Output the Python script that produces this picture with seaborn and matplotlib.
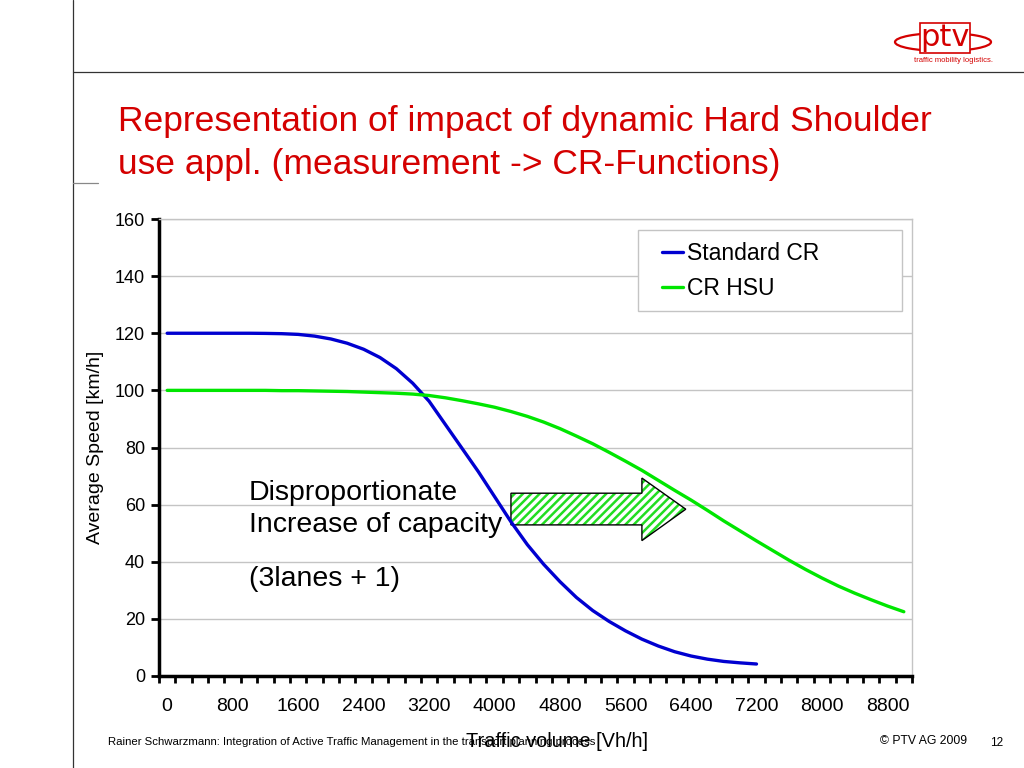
import numpy as np
import pandas as pd
import matplotlib
matplotlib.use('Agg')
import matplotlib.pyplot as plt
from matplotlib.patches import Polygon, Ellipse, Rectangle
from matplotlib.lines import Line2D
import seaborn as sns

# values (speed in km/h per 200 Vh/h step)
volume_standard = list(range(0, 7201, 200))
speed_standard = [120, 120, 120, 120, 120, 120, 119.95, 119.85, 119.6, 119.0,
                  118.0, 116.5, 114.4, 111.5, 107.6, 102.5, 96.2, 88.0, 79.8,
                  71.6, 62.8, 54.0, 46.0, 39.1, 33.0, 27.5, 22.9, 19.1, 15.8,
                  12.9, 10.5, 8.5, 7.0, 5.9, 5.1, 4.6, 4.2]

volume_hsu = list(range(0, 9001, 200))
speed_hsu = [100, 100, 100, 100, 100, 100, 100, 99.9, 99.9, 99.8,
             99.7, 99.6, 99.4, 99.2, 99.0, 98.7, 98.2, 97.4, 96.4, 95.3,
             94.1, 92.6, 90.9, 88.9, 86.6, 84.0, 81.3, 78.3, 75.2, 72.0,
             68.5, 65.0, 61.6, 58.0, 54.3, 50.8, 47.3, 43.9, 40.5, 37.3,
             34.3, 31.5, 29.0, 26.7, 24.5, 22.5]

series_names = ['Standard CR', 'CR HSU']
series_colors = {'Standard CR': '#0000D0', 'CR HSU': '#00E600'}

x_labels = list(range(0, 8801, 800))
y_ticks = list(range(0, 161, 20))

df = pd.concat([
    pd.DataFrame({'volume': volume_standard, 'speed': speed_standard, 'curve': 'Standard CR'}),
    pd.DataFrame({'volume': volume_hsu, 'speed': speed_hsu, 'curve': 'CR HSU'}),
])

sns.set_theme(style='white')
plt.rcParams['font.family'] = ['Liberation Sans', 'DejaVu Sans']
plt.rcParams['text.color'] = 'black'
plt.rcParams['axes.labelcolor'] = 'black'
plt.rcParams['xtick.color'] = 'black'
plt.rcParams['ytick.color'] = 'black'
plt.rcParams['hatch.linewidth'] = 1.8

fig = plt.figure(figsize=(10.24, 7.68), dpi=100)
ax = fig.add_axes([159 / 1024, 1 - 676 / 768, 753 / 1024, 457 / 768])

sns.lineplot(data=df, x='volume', y='speed', hue='curve', hue_order=series_names,
             palette=series_colors, linewidth=2.4, ax=ax, zorder=3)

ax.set_xlim(-100, 9100)
ax.set_ylim(0, 160)

# y axis
ax.set_yticks(y_ticks)
ax.tick_params(axis='y', which='major', direction='out', length=6, width=2,
               color='black', labelsize=13, pad=4, left=True)
ax.yaxis.grid(True, color='#c4c4c4', linewidth=1)
ax.xaxis.grid(False)

# x axis: category-like ticks between labels
ax.set_xticks(x_labels)
ax.set_xticks(np.arange(-100, 9101, 200), minor=True)
ax.tick_params(axis='x', which='major', length=0, labelsize=14, pad=16)
ax.tick_params(axis='x', which='minor', direction='out', length=5, width=2,
               color='black', bottom=True)

for side in ['left', 'bottom']:
    ax.spines[side].set_color('black')
    ax.spines[side].set_linewidth(2.5)
for side in ['top', 'right']:
    ax.spines[side].set_color('#c4c4c4')
    ax.spines[side].set_linewidth(1)

ax.set_xlabel('Traffic volume [Vh/h]', fontsize=14.4)
ax.xaxis.set_label_coords(0.528, -0.123)
ax.set_ylabel('Average Speed [km/h]', fontsize=14, labelpad=8)

# legend: entries without frame, frame drawn as its own box
leg = ax.legend(loc='upper left', bbox_to_anchor=(0.668, 0.949), borderaxespad=0,
                fontsize=16.5, handlelength=0.9, handletextpad=0.2,
                labelspacing=0.5, borderpad=0, frameon=False)
for line in leg.get_lines():
    line.set_linewidth(2.4)
ax.add_patch(Rectangle((0.636, 0.799), 0.351, 0.177, transform=ax.transAxes,
                       facecolor='white', edgecolor='#c4c4c4', linewidth=1, zorder=4))
leg.set_zorder(5)

# hatched arrow
arrow_pts = [(4200, 52.9), (5800, 52.9), (5800, 47.4), (6336, 58.4),
             (5800, 69.3), (5800, 64.0), (4200, 64.0)]
ax.add_patch(Polygon(arrow_pts, closed=True, facecolor='white', edgecolor='#22dd22',
                     hatch='////', linewidth=0, zorder=2))
ax.add_patch(Polygon(arrow_pts, closed=True, fill=False, edgecolor='black',
                     linewidth=1, zorder=2.1))

ax.text(1000, 61.6, 'Disproportionate', fontsize=20.5, va='baseline', ha='left')
ax.text(1000, 50.4, 'Increase of capacity', fontsize=20.5, va='baseline', ha='left')
ax.text(1000, 31.5, '(3lanes + 1)', fontsize=20.5, va='baseline', ha='left')

# slide decoration
fig.text(118 / 1024, 1 - 131 / 768, 'Representation of impact of dynamic Hard Shoulder',
         fontsize=25.5, color='#D40000', va='baseline', ha='left')
fig.text(118 / 1024, 1 - 174 / 768, 'use appl. (measurement -> CR-Functions)',
         fontsize=25.5, color='#D40000', va='baseline', ha='left')

fig.add_artist(Line2D([73 / 1024, 73 / 1024], [0, 1], transform=fig.transFigure,
                      color='#333333', linewidth=0.9))
fig.add_artist(Line2D([73 / 1024, 1], [1 - 72 / 768, 1 - 72 / 768], transform=fig.transFigure,
                      color='#333333', linewidth=0.9))
fig.add_artist(Line2D([73 / 1024, 98 / 1024], [1 - 183 / 768, 1 - 183 / 768],
                      transform=fig.transFigure, color='#888888', linewidth=0.9))

# logo
fig.add_artist(Ellipse((943 / 1024, 1 - 42 / 768), 96 / 1024, 18 / 768,
                       transform=fig.transFigure, fill=False, edgecolor='#D40000', linewidth=1.6))
fig.text(945 / 1024, 1 - 38 / 768, 'ptv', fontsize=22, color='#D40000', ha='center',
         va='center', family=['DejaVu Sans'],
         bbox=dict(facecolor='white', edgecolor='#D40000', linewidth=1.2, pad=0.5))
fig.text(953 / 1024, 1 - 62 / 768, 'traffic mobility logistics.', fontsize=5.5,
         color='#D40000', ha='center', va='baseline')

fig.text(108 / 1024, 1 - 745 / 768,
         'Rainer Schwarzmann: Integration of Active Traffic Management in the transport planning process',
         fontsize=8.2, va='baseline', ha='left')
fig.text(880 / 1024, 1 - 744 / 768, '\u00a9 PTV AG 2009', fontsize=8.8, va='baseline', ha='left')
fig.text(990 / 1024, 1 - 746 / 768, '12', fontsize=8.5, va='baseline', ha='left')

fig.savefig('out.png', dpi=100)
